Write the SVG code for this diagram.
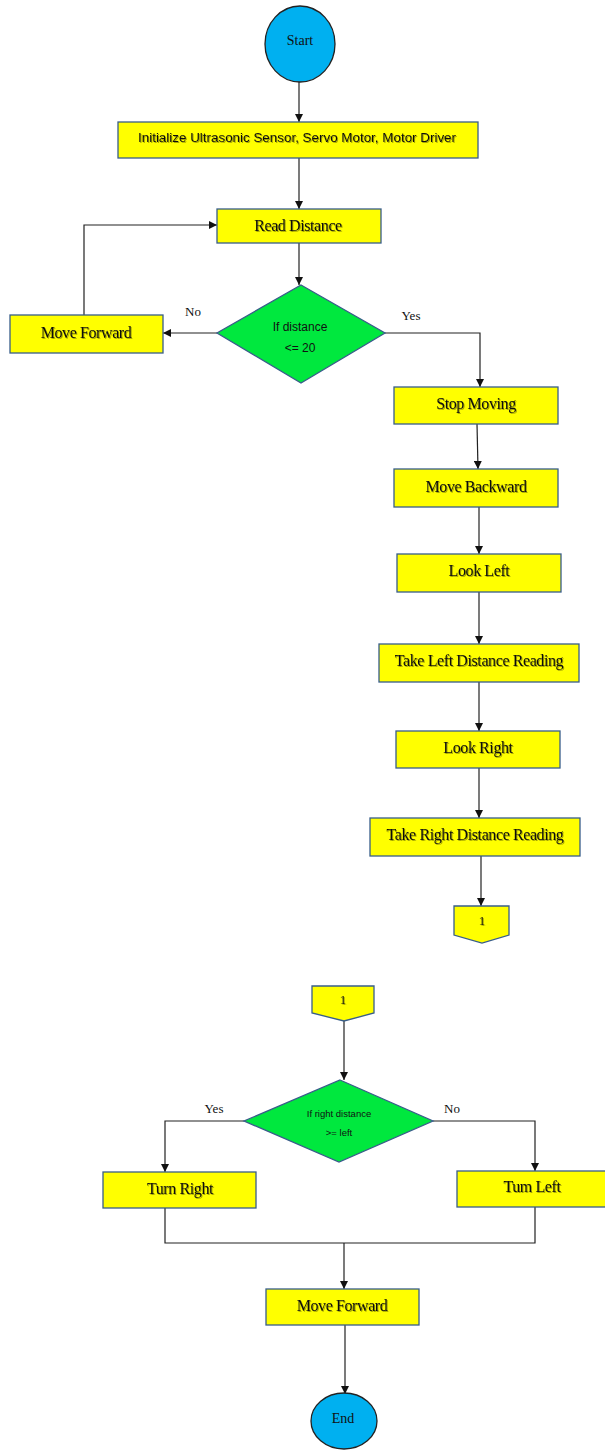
<svg xmlns="http://www.w3.org/2000/svg" width="605" height="1450" viewBox="0 0 605 1450">
  <defs>
    <marker id="arrow" markerUnits="userSpaceOnUse" markerWidth="8" markerHeight="8" refX="8" refY="4" orient="auto">
      <path d="M0,0 L8,4 L0,8 z" fill="#111"/>
    </marker>
    <filter id="shade" x="-10%" y="-30%" width="120%" height="160%">
      <feDropShadow dx="1" dy="1" stdDeviation="0.6" flood-color="#000" flood-opacity="0.35"/>
    </filter>
    <style>
      .box { fill: #ffff00; stroke: #385d8a; stroke-width: 1.3; }
      .dec { fill: #00e83e; stroke: #385d8a; stroke-width: 1.3; }
      .term { fill: #00b0f0; stroke: #222; stroke-width: 1.3; }
      .serif { font-family: "Liberation Serif", "Times New Roman", serif; fill: #111; text-anchor: middle; dominant-baseline: central; }
      .sans { font-family: "Liberation Sans", Arial, sans-serif; fill: #111; text-anchor: middle; dominant-baseline: central; }
      .lbl { font-size: 16px; letter-spacing: -0.4px; filter: url(#shade); }
      .edge { fill: none; stroke: #222; stroke-width: 1.2; }
      .tag { font-family: "Liberation Serif", "Times New Roman", serif; font-size: 13px; fill: #111; text-anchor: middle; }
    </style>
  </defs>

  <g id="connectors">
    <line class="edge" x1="299" y1="82" x2="299" y2="122" marker-end="url(#arrow)"/>
    <line class="edge" x1="299" y1="158" x2="299" y2="209" marker-end="url(#arrow)"/>
    <line class="edge" x1="299" y1="243" x2="299" y2="285" marker-end="url(#arrow)"/>
    <line class="edge" x1="217" y1="333" x2="163" y2="333" marker-end="url(#arrow)"/>
    <polyline class="edge" points="84,315 84,225 217,225" marker-end="url(#arrow)"/>
    <polyline class="edge" points="385,333 480,333 480,387" marker-end="url(#arrow)"/>
    <line class="edge" x1="477" y1="424" x2="478" y2="469" marker-end="url(#arrow)"/>
    <line class="edge" x1="479" y1="507" x2="479" y2="554" marker-end="url(#arrow)"/>
    <line class="edge" x1="479" y1="592" x2="479" y2="644" marker-end="url(#arrow)"/>
    <line class="edge" x1="479" y1="682" x2="479" y2="731" marker-end="url(#arrow)"/>
    <line class="edge" x1="479" y1="768" x2="479" y2="818" marker-end="url(#arrow)"/>
    <line class="edge" x1="481" y1="856" x2="481" y2="906" marker-end="url(#arrow)"/>
    <line class="edge" x1="344" y1="1021" x2="344" y2="1080" marker-end="url(#arrow)"/>
    <polyline class="edge" points="244,1121 165,1121 165,1172" marker-end="url(#arrow)"/>
    <polyline class="edge" points="433,1121 535,1121 535,1171" marker-end="url(#arrow)"/>
    <polyline class="edge" points="165,1208 165,1243 535,1243 535,1207"/>
    <line class="edge" x1="344" y1="1243" x2="344" y2="1289" marker-end="url(#arrow)"/>
    <line class="edge" x1="345" y1="1325" x2="345" y2="1394" marker-end="url(#arrow)"/>
    <text class="tag" x="193" y="316">No</text>
    <text class="tag" x="411" y="320">Yes</text>
    <text class="tag" x="214" y="1113">Yes</text>
    <text class="tag" x="452" y="1113">No</text>
  </g>

  <g id="start">
    <ellipse class="term" cx="300" cy="44" rx="35" ry="38"/>
    <text class="serif" x="300" y="40" font-size="14">Start</text>
  </g>

  <g id="init">
    <rect class="box" x="118" y="122" width="360" height="36"/>
    <text class="sans" x="297" y="138" font-size="12" textLength="318" lengthAdjust="spacingAndGlyphs" filter="url(#shade)">Initialize Ultrasonic Sensor, Servo Motor, Motor Driver</text>
  </g>

  <g id="read-distance">
    <rect class="box" x="217" y="209" width="164" height="34"/>
    <text class="serif lbl" x="298" y="225">Read Distance</text>
  </g>

  <g id="check-distance">
    <polygon class="dec" points="301,285 385,333 301,383 217,333"/>
    <text class="sans" x="300" y="327" font-size="12">If distance</text>
    <text class="sans" x="300" y="348" font-size="12">&lt;= 20</text>
  </g>

  <g id="move-forward-loop">
    <rect class="box" x="10" y="315" width="153" height="38"/>
    <text class="serif lbl" x="86" y="332">Move Forward</text>
  </g>

  <g id="stop-moving">
    <rect class="box" x="394" y="387" width="164" height="37"/>
    <text class="serif lbl" x="476" y="403">Stop Moving</text>
  </g>

  <g id="move-backward">
    <rect class="box" x="394" y="469" width="164" height="38"/>
    <text class="serif lbl" x="476" y="486">Move Backward</text>
  </g>

  <g id="look-left">
    <rect class="box" x="397" y="554" width="164" height="38"/>
    <text class="serif lbl" x="479" y="570">Look Left</text>
  </g>

  <g id="left-reading">
    <rect class="box" x="379" y="644" width="200" height="38"/>
    <text class="serif lbl" x="479" y="660">Take Left Distance Reading</text>
  </g>

  <g id="look-right">
    <rect class="box" x="396" y="731" width="164" height="37"/>
    <text class="serif lbl" x="478" y="747">Look Right</text>
  </g>

  <g id="right-reading">
    <rect class="box" x="370" y="818" width="210" height="38"/>
    <text class="serif lbl" x="475" y="834">Take Right Distance Reading</text>
  </g>

  <g id="link-out">
    <polygon class="box" points="454,906 509,906 509,935 482,943 454,935"/>
    <text class="serif" x="482" y="920" font-size="13" filter="url(#shade)">1</text>
  </g>

  <g id="link-in">
    <polygon class="box" points="312,986 374,986 374,1013 344,1021 312,1013"/>
    <text class="serif" x="343" y="999" font-size="13" filter="url(#shade)">1</text>
  </g>

  <g id="compare-sides">
    <polygon class="dec" points="340,1080 433,1121 339,1162 244,1121"/>
    <text class="sans" x="339" y="1113" font-size="9.5">If right distance</text>
    <text class="sans" x="339" y="1132" font-size="9.5">&gt;= left</text>
  </g>

  <g id="turn-right">
    <rect class="box" x="103" y="1172" width="153" height="36"/>
    <text class="serif lbl" x="180" y="1188">Turn Right</text>
  </g>

  <g id="turn-left">
    <rect class="box" x="457" y="1171" width="150" height="36"/>
    <text class="serif lbl" x="532" y="1186">Tum Left</text>
  </g>

  <g id="move-forward">
    <rect class="box" x="266" y="1289" width="153" height="36"/>
    <text class="serif lbl" x="342" y="1305">Move Forward</text>
  </g>

  <g id="end">
    <ellipse class="term" cx="344" cy="1421" rx="33" ry="28"/>
    <text class="serif" x="343" y="1418" font-size="14">End</text>
  </g>
</svg>
